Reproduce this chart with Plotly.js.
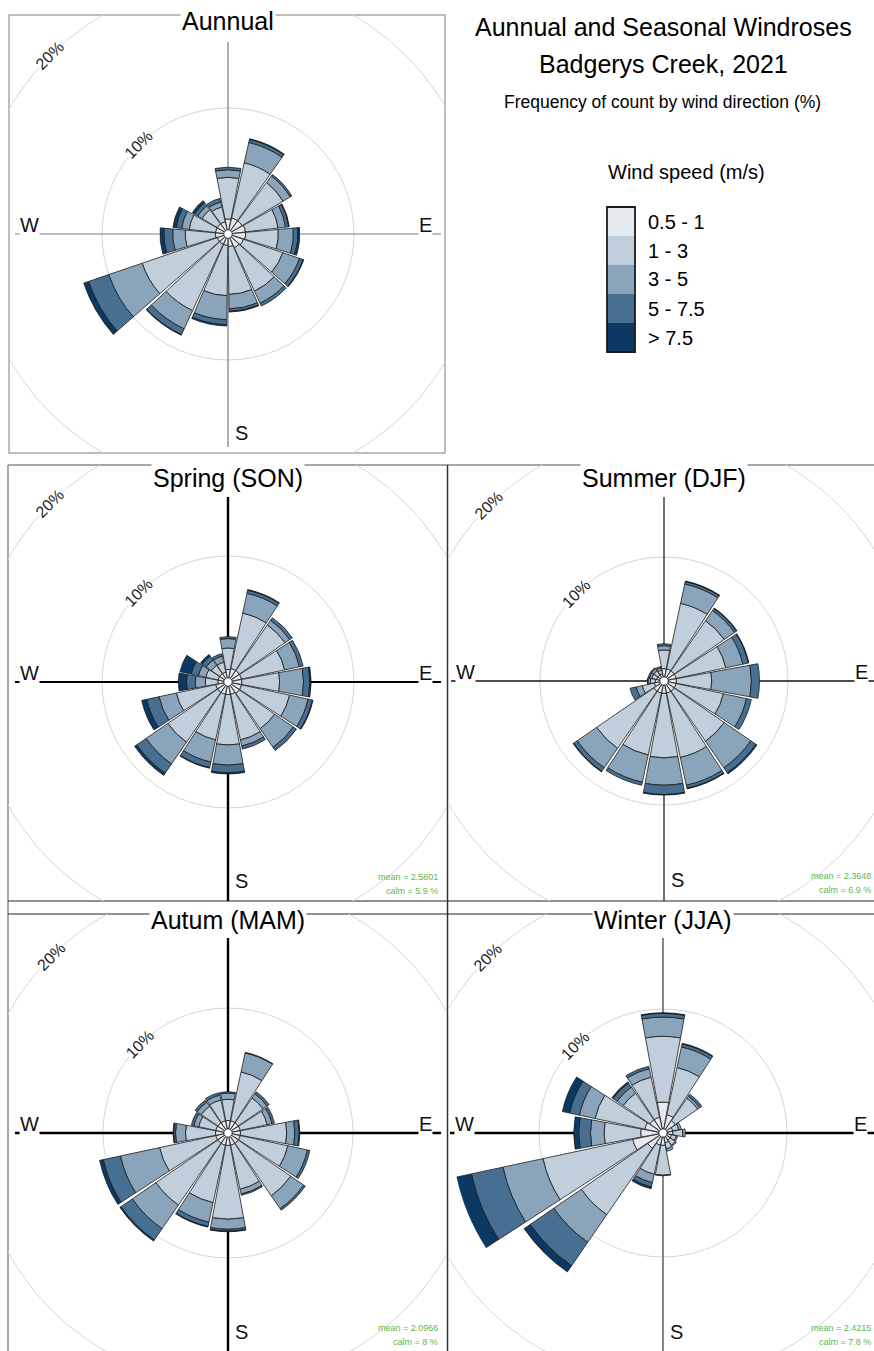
<!DOCTYPE html>
<html><head><meta charset="utf-8">
<script src="https://cdn.plot.ly/plotly-3.0.1.min.js"></script>
<style>html,body{margin:0;padding:0;background:#fff;overflow:hidden}#chart{width:874px;height:1351px}</style>
</head><body><div id="chart"></div>
<script>
// ---------------- DATA ----------------
const speedBins = ['0.5 - 1', '1 - 3', '3 - 5', '5 - 7.5', '> 7.5'];
const binColors = ['#e5eaef', '#c1cedb', '#8aa4bb', '#476f91', '#0b3964'];

// annual rose uses 24-degree sectors (15 directions); seasons use 16 compass points
const annualDirections = [0, 24, 48, 72, 96, 120, 144, 168, 192, 216, 240, 264, 288, 312, 336];
const seasonDirections = [0, 22.5, 45, 67.5, 90, 112.5, 135, 157.5, 180, 202.5, 225, 247.5, 270, 292.5, 315, 337.5];
const seasonNames = ['N','NNE','NE','ENE','E','ESE','SE','SSE','S','SSW','SW','WSW','W','WNW','NW','NNW'];

// frequency (%) per direction for each wind speed bin
const annual_05_1 = [1.2, 1.3, 1.3, 1.4, 1.4, 1.3, 1.2, 1.0, 0.9, 0.9, 0.9, 1.0, 1.0, 1.0, 1.0];
const annual_1_3  = [3.3, 4.5, 3.8, 2.6, 2.6, 3.3, 3.8, 3.8, 4.0, 5.8, 6.3, 2.4, 2.1, 1.4, 1.2];
const annual_3_5  = [0.6, 1.65, 0.65, 0.6, 1.2, 1.4, 1.05, 1.15, 1.9, 1.6, 2.8, 1.0, 0.6, 0.4, 0.4];
const annual_5_75 = [0.2, 0.25, 0.15, 0.25, 0.35, 0.3, 0.25, 0.2, 0.4, 0.5, 1.7, 0.7, 0.45, 0.3, 0.3];
const annual_75   = [0, 0.05, 0, 0.05, 0.15, 0.05, 0, 0.05, 0.1, 0.05, 0.4, 0.3, 0.25, 0.2, 0];

const spring_05_1 = [1.0, 1.1, 1.1, 1.1, 1.1, 1.1, 1.1, 1.0, 1.0, 1.0, 1.0, 1.0, 0.8, 0.8, 0.8, 0.8];
const spring_1_3  = [1.7, 4.5, 4.4, 3.5, 3.0, 3.9, 3.4, 3.7, 4.0, 3.7, 4.8, 3.2, 1.0, 1.0, 0.8, 0.8];
const spring_3_5  = [0.75, 1.6, 0.45, 1.2, 1.9, 1.5, 1.8, 0.5, 1.6, 1.8, 2.1, 1.4, 0.8, 0.6, 0.5, 0.5];
const spring_5_75 = [0.15, 0.25, 0.25, 0.3, 0.5, 0.35, 0.3, 0.25, 0.6, 0.45, 0.9, 1.0, 0.7, 0.6, 0.4, 0.2];
const spring_75   = [0, 0.05, 0, 0, 0.1, 0.05, 0, 0, 0.1, 0.05, 0.2, 0.4, 0.65, 0.9, 0.15, 0];

const summer_05_1 = [1.0, 1.0, 1.0, 1.0, 1.0, 1.0, 1.0, 1.0, 1.0, 1.0, 1.0, 0.8, 0.7, 0.6, 0.6, 0.6];
const summer_1_3  = [1.5, 5.4, 4.9, 4.1, 2.85, 3.9, 4.9, 5.3, 5.2, 5.1, 5.6, 1.0, 0.4, 0.4, 0.4, 0.3];
const summer_3_5  = [0.35, 1.6, 1.0, 1.4, 3.2, 1.9, 2.6, 2.3, 2.2, 2.25, 1.9, 0.5, 0.2, 0.2, 0.2, 0.2];
const summer_5_75 = [0.15, 0.2, 0.2, 0.45, 0.65, 0.4, 0.5, 0.25, 0.75, 0.25, 0.35, 0.5, 0.05, 0.1, 0.1, 0.1];
const summer_75   = [0, 0.05, 0.05, 0.05, 0, 0, 0.1, 0.05, 0.05, 0, 0.05, 0, 0, 0, 0, 0];

const autumn_05_1 = [1.0, 1.0, 1.0, 1.0, 1.0, 1.0, 1.0, 1.0, 1.0, 1.0, 1.0, 1.0, 1.0, 1.0, 1.0, 1.0];
const autumn_1_3  = [1.7, 4.0, 2.4, 2.2, 3.7, 3.9, 5.1, 3.6, 5.9, 4.7, 6.0, 4.6, 2.4, 1.4, 1.6, 1.7];
const autumn_3_5  = [0.5, 1.55, 0.4, 0.4, 0.65, 1.6, 1.25, 0.4, 0.8, 1.6, 2.3, 3.2, 0.8, 0.4, 0.4, 0.4];
const autumn_5_75 = [0.1, 0.05, 0.2, 0.2, 0.35, 0.2, 0.15, 0.1, 0.15, 0.35, 1.1, 1.4, 0.15, 0.2, 0.2, 0.2];
const autumn_75   = [0, 0, 0, 0, 0.05, 0, 0, 0, 0.05, 0.05, 0.1, 0.3, 0.05, 0, 0, 0];

const winter_05_1 = [2.5, 1.5, 1.2, 0.8, 0.8, 0.7, 0.7, 0.8, 1.0, 1.0, 1.5, 2.5, 1.8, 1.5, 1.3, 1.3];
const winter_1_3  = [5.3, 3.9, 2.2, 0.5, 0.8, 0.4, 0.5, 0.5, 2.4, 2.4, 6.5, 7.4, 2.95, 4.1, 2.6, 3.3];
const winter_3_5  = [1.55, 1.7, 0.2, 0.2, 0.2, 0.1, 0.1, 0.2, 0.05, 0.7, 2.7, 3.3, 1.1, 1.3, 0.6, 0.7];
const winter_5_75 = [0.3, 0.25, 0.2, 0, 0, 0, 0, 0, 0, 0.35, 2.3, 2.6, 0.95, 0.8, 0.4, 0.2];
const winter_75   = [0.05, 0.05, 0, 0, 0, 0, 0, 0, 0, 0.15, 0.6, 1.3, 0.4, 0.6, 0.1, 0];

const panelTitles = ['Aunnual', 'Spring (SON)', 'Summer (DJF)', 'Autum (MAM)', 'Winter (JJA)'];
const seasonMean = [null, 2.5801, 2.3648, 2.0966, 2.4215];
const seasonCalm = [null, 5.9, 6.9, 8, 7.8];
const ringValues = [10, 20];
const ringLabels = ['10%', '20%'];

const mainTitle1 = 'Aunnual and Seasonal Windroses';
const mainTitle2 = 'Badgerys Creek, 2021';
const subTitle = 'Frequency of count by wind direction (%)';
const legendTitle = 'Wind speed (m/s)';

// ---------------- LAYOUT GEOMETRY ----------------
const W = 874, H = 1351;
const FONT_S = '"Liberation Sans", Arial, Helvetica, sans-serif';

const panels = [
  {cx:228, cy:234, k:12.6, box:[9,15,445,453], rp:215, vTop:42, vBot:447, vC:'#7a7a7a', vW:1.2, hC:'#7a7a7a', hW:1.2, titleY:21,
   dirs:annualDirections, freq:[annual_05_1, annual_1_3, annual_3_5, annual_5_75, annual_75], step:24},
  {cx:228, cy:682, k:12.6, box:[8,465,447,901], rp:215, vTop:497, vBot:901, vC:'#000', vW:2.4, hC:'#000', hW:1.8, titleY:478,
   dirs:seasonDirections, freq:[spring_05_1, spring_1_3, spring_3_5, spring_5_75, spring_75], step:22.5},
  {cx:664, cy:681, k:12.4, box:[448,465,874,901], rp:209, vTop:497, vBot:901, vC:'#333', vW:1.4, hC:'#111', hW:1.6, titleY:478,
   dirs:seasonDirections, freq:[summer_05_1, summer_1_3, summer_3_5, summer_5_75, summer_75], step:22.5},
  {cx:228, cy:1133, k:12.5, box:[8,914,447,1351], rp:217, vTop:938, vBot:1351, vC:'#000', vW:2.4, hC:'#000', hW:2.4, titleY:920,
   dirs:seasonDirections, freq:[autumn_05_1, autumn_1_3, autumn_3_5, autumn_5_75, autumn_75], step:22.5},
  {cx:663, cy:1133, k:12.4, box:[448,914,874,1351], rp:211, vTop:938, vBot:1351, vC:'#555', vW:1.4, hC:'#000', hW:2.4, titleY:920,
   dirs:seasonDirections, freq:[winter_05_1, winter_1_3, winter_3_5, winter_5_75, winter_75], step:22.5}
];

const px = x => x / W;
const py = y => 1 - y / H;

const data = [];
const layout = {
  width: W, height: H, margin: {l:0, r:0, t:0, b:0},
  paper_bgcolor: '#ffffff', plot_bgcolor: 'rgba(0,0,0,0)',
  showlegend: false, shapes: [], annotations: [], hovermode: false
};

function pline(x0, y0, x1, y1, color, width) {
  layout.shapes.push({type:'line', xref:'paper', yref:'paper', x0:px(x0), y0:py(y0), x1:px(x1), y1:py(y1),
    line:{color:color, width:width}, layer:'below'});
}

panels.forEach((p, i) => {
  const n = i === 0 ? '' : String(i + 1);
  const [L, T, R, B] = p.box;
  const xa = 'x' + n, ya = 'y' + n;
  layout['xaxis' + n] = {domain:[px(L), px(R)], range:[(L - p.cx) / p.k, (R - p.cx) / p.k], visible:false, fixedrange:true, anchor:ya};
  layout['yaxis' + n] = {domain:[py(B), py(T)], range:[(p.cy - B) / p.k, (p.cy - T) / p.k], visible:false, fixedrange:true, anchor:xa};
  data.push({type:'scatter', x:[], y:[], xaxis:xa, yaxis:ya, hoverinfo:'skip', showlegend:false});

  // rings
  ringValues.forEach((rv, j) => {
    layout.shapes.push({type:'circle', xref:xa, yref:ya, x0:-rv, x1:rv, y0:-rv, y1:rv,
      line:{color:'#d6d6d6', width:1}, layer:'below'});
    const d = rv * 0.7071 + 0.3;
    layout.annotations.push({xref:xa, yref:ya, x:-d + 0.3, y:d - 0.3, text:ringLabels[j], showarrow:false,
      textangle:-45, font:{family:FONT_S, size:16, color:'#1a1a1a'}, bgcolor:'#ffffff', borderpad:0});
  });
  // cross lines
  layout.shapes.push({type:'line', xref:xa, yref:ya, x0:0, x1:0, y0:(p.cy - p.vBot) / p.k, y1:(p.cy - p.vTop) / p.k,
    line:{color:p.vC, width:p.vW}, layer:'below'});
  layout.shapes.push({type:'line', xref:xa, yref:ya, x0:-213 / p.k, x1:213 / p.k, y0:0, y1:0,
    line:{color:p.hC, width:p.hW}, layer:'below'});
  // center hub
  layout.shapes.push({type:'circle', xref:xa, yref:ya, x0:-0.33, x1:0.33, y0:-0.33, y1:0.33,
    fillcolor:'#ffffff', line:{color:'#222', width:0.8}, layer:'above'});

  // compass letters
  const lab = (t, x, y) => layout.annotations.push({xref:xa, yref:ya, x:x / p.k, y:y / p.k, text:t, showarrow:false,
    font:{family:FONT_S, size:20, color:'#111'}, bgcolor:'#ffffff', borderpad:0, xanchor:'center', yanchor:'middle'});
  lab('W', -199, 9);
  lab('E', 197, 9);
  lab('S', 13, -199);

  // panel title
  layout.annotations.push({xref:'paper', yref:'paper', x:px(p.cx), y:py(p.titleY), text:panelTitles[i], showarrow:false,
    font:{family:FONT_S, size:25, color:'#000'}, bgcolor:'#ffffff', borderpad:1, xanchor:'center', yanchor:'middle'});

  // mean / calm
  if (seasonMean[i] !== null) {
    const xr = Math.min(p.cx + 212, 873);
    layout.annotations.push({xref:'paper', yref:'paper', x:px(xr), y:py(p.cy + 195), xanchor:'right', yanchor:'middle',
      text:'mean = ' + seasonMean[i], showarrow:false, font:{family:FONT_S, size:9, color:'#5cb84a'}});
    layout.annotations.push({xref:'paper', yref:'paper', x:px(xr), y:py(p.cy + 209), xanchor:'right', yanchor:'middle',
      text:'calm = ' + seasonCalm[i] + ' %', showarrow:false, font:{family:FONT_S, size:9, color:'#5cb84a'}});
  }

  // polar subplot with the stacked bars
  const pn = 'polar' + n;
  layout[pn] = {
    domain:{x:[px(p.cx - p.rp), px(p.cx + p.rp)], y:[py(p.cy + p.rp), py(p.cy - p.rp)]},
    bgcolor:'rgba(0,0,0,0)',
    radialaxis:{range:[0, p.rp / p.k], visible:false},
    angularaxis:{rotation:90, direction:'clockwise', visible:false},
    barmode:'stack'
  };
  p.freq.forEach((vals, b) => {
    data.push({type:'barpolar', subplot:pn, r:vals, theta:p.dirs, width:p.step - 1.6,
      marker:{color:binColors[b], line:{color:'#1c1c1c', width:0.8}},
      name:speedBins[b], hoverinfo:'skip', showlegend:false});
  });
});

// panel frames
const fr = panels[0].box;
layout.shapes.push({type:'rect', xref:'paper', yref:'paper', x0:px(fr[0]), x1:px(fr[2]), y0:py(fr[3]), y1:py(fr[1]),
  line:{color:'#a8a8a8', width:1.5}, layer:'below'});
pline(8, 465, 874, 465, '#8a8a8a', 1.3);
pline(8, 465, 8, 1351, '#8a8a8a', 1.5);
pline(447.5, 465, 447.5, 1351, '#333', 1.5);
pline(8, 901, 874, 901, '#222', 1.2);
pline(8, 914, 874, 914, '#222', 1.2);

// main titles
const tAnn = (t, x, y, size) => layout.annotations.push({xref:'paper', yref:'paper', x:px(x), y:py(y), text:t,
  showarrow:false, xanchor:'center', yanchor:'middle', font:{family:FONT_S, size:size, color:'#000'}});
tAnn(mainTitle1, 663, 27, 25);
tAnn(mainTitle2, 663, 64, 25);
tAnn(subTitle, 662, 102, 17.5);
tAnn(legendTitle, 686, 172, 20);

// legend colour key
const lx0 = 607, lx1 = 635, ly0 = 207, ly1 = 352;
const cs = [];
binColors.forEach((c, i) => { cs.push([i / 5, c]); cs.push([(i + 1) / 5, c]); });
data.push({type:'heatmap', xaxis:'x6', yaxis:'y6', x:[0], y:speedBins, z:speedBins.map((b, i) => [i + 0.5]),
  zmin:0, zmax:5, colorscale:cs, showscale:false, hoverinfo:'skip'});
layout.xaxis6 = {domain:[px(lx0), px(lx1)], visible:false, fixedrange:true, anchor:'y6'};
layout.yaxis6 = {domain:[py(ly1), py(ly0)], type:'category', autorange:'reversed', visible:false, fixedrange:true, anchor:'x6'};
layout.shapes.push({type:'rect', xref:'paper', yref:'paper', x0:px(lx0), x1:px(lx1), y0:py(ly1), y1:py(ly0),
  line:{color:'#1a1a1a', width:1.8}, layer:'above'});
speedBins.forEach((b, i) => {
  const yc = ly0 + (i + 0.5) * (ly1 - ly0) / speedBins.length;
  layout.annotations.push({xref:'paper', yref:'paper', x:px(646), y:py(yc), text:b, showarrow:false,
    xanchor:'left', yanchor:'middle', font:{family:FONT_S, size:20, color:'#000'}});
});

Plotly.newPlot('chart', data, layout, {staticPlot:true, displayModeBar:false});
</script>
</body></html>
